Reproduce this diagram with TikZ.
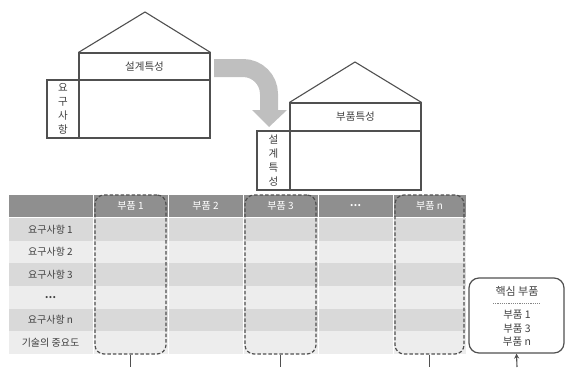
\documentclass[tikz,border=0pt]{standalone}
\usepackage{fontspec}
\setmainfont{Noto Sans CJK KR}
\usetikzlibrary{arrows.meta}
\definecolor{txt}{HTML}{404040}
\definecolor{linec}{HTML}{505050}
\definecolor{hdr}{HTML}{8F8F8F}
\definecolor{rowd}{HTML}{D9D9D9}
\definecolor{rowl}{HTML}{EDEDED}
\definecolor{arrowgray}{HTML}{BFBFBF}
\begin{document}
\begin{tikzpicture}[x=1pt,y=-1pt,
  housebox/.style={draw=linec, line width=1.1pt, inner sep=0pt, text=txt, font=\fontsize{10.5}{14}\selectfont},
  rooflines/.style={draw=linec, line width=1.1pt},
  cellbase/.style={inner sep=0pt, minimum height=22.67pt, text=txt, font=\fontsize{10}{12}\selectfont},
  hdrcell/.style={inner sep=0pt, minimum height=22pt, fill=hdr, text=white, font=\fontsize{10}{12}\selectfont},
  selbox/.style={draw=linec, line width=1.2pt, dash pattern=on 3.5pt off 2pt, rounded corners=9pt, minimum height=159pt, inner sep=0pt},
  conn/.style={draw=linec, line width=1.1pt},
  corebox/.style={draw=linec, line width=1.2pt, rounded corners=10pt, minimum width=95pt, minimum height=75pt, inner sep=0pt},
  coretext/.style={text=txt, inner sep=0pt, align=center}
]
\useasboundingbox (0,0) rectangle (565,367);

% ---------- house 1 ----------
\node[housebox, minimum width=131pt, minimum height=27pt] (h1head) at (144.5,66.5) {설계특성};
\node[housebox, minimum width=131pt, minimum height=58pt] (h1body) at (144.5,109) {};
\node[housebox, minimum width=32pt, minimum height=58pt, align=center] (h1side) at (63,109) {요\\구\\사\\항};
\coordinate (h1apex) at (145,12);
\draw[rooflines] (h1head.north west) -- (h1apex) -- (h1head.north east);

% ---------- house 2 ----------
\node[housebox, minimum width=131pt, minimum height=28pt] (h2head) at (355.5,117) {부품특성};
\node[housebox, minimum width=131pt, minimum height=59pt] (h2body) at (355.5,160.5) {};
\node[housebox, minimum width=33pt, minimum height=59pt, align=center] (h2side) at (273.5,160.5) {설\\계\\특\\성};
\coordinate (h2apex) at (355,62);
\draw[rooflines] (h2head.north west) -- (h2apex) -- (h2head.north east);

% ---------- gray bent arrow ----------
\coordinate (ga) at (214,68);
\coordinate (gb) at (269,110.5);
\coordinate (gtip) at (269,127);
\draw[arrowgray, line width=18pt, rounded corners=26pt] (ga) -| (gb);
\fill[arrowgray] (252,110) -- (287,110) -- (gtip) -- cycle;

% ---------- table header ----------
\node[hdrcell, minimum width=84pt] (h0) at (50.5,205.5) {};
\node[hdrcell, minimum width=74pt] (h1) at (130.5,205.5) {부품 1};
\node[hdrcell, minimum width=74pt] (h2) at (205.5,205.5) {부품 2};
\node[hdrcell, minimum width=74pt] (h3) at (280.5,205.5) {부품 3};
\node[hdrcell, minimum width=74pt] (h4) at (355.5,205.5) {\textbf{…}};
\node[hdrcell, minimum width=72pt] (h5) at (429.5,205.5) {부품 n};

% ---------- table body ----------
\foreach \r/\cy/\fc/\lab in {1/229.33/rowd/요구사항 1, 2/252/rowl/요구사항 2, 3/274.67/rowd/요구사항 3, 4/297.33/rowl/\textbf{…}, 5/320/rowd/요구사항 n, 6/342.67/rowl/기술의 중요도}{
  \node[cellbase, fill=\fc, minimum width=84pt] (r\r c0) at (50.5,\cy) {\lab};
  \foreach \c/\cx/\w in {1/130.5/74, 2/205.5/74, 3/280.5/74, 4/355.5/74, 5/429.5/72}{
    \node[cellbase, fill=\fc, minimum width=\w pt] (r\r c\c) at (\cx,\cy) {};
  }
}

% ---------- dashed selection boxes ----------
\node[selbox, minimum width=71pt] (sel1) at (130.5,274.5) {};
\node[selbox, minimum width=71pt] (sel3) at (280.5,274.5) {};
\node[selbox, minimum width=69pt] (seln) at (429.5,274.5) {};
\coordinate (e1) at (130.5,367);
\coordinate (e3) at (280.5,367);
\coordinate (en) at (429.5,367);
\draw[conn] (sel1.south) -- (e1);
\draw[conn] (sel3.south) -- (e3);
\draw[conn] (seln.south) -- (en);

% ---------- core parts box ----------
\node[corebox] (core) at (516.5,315.5) {};
\node[coretext, font=\fontsize{11}{13}\selectfont] (coretitle) at (517,291) {핵심 부품};
\coordinate (cdl) at (493,303);
\coordinate (cdr) at (541,303);
\draw[linec!70, line width=0.5pt, dash pattern=on 1.2pt off 1pt] (cdl) -- (cdr);
\node[coretext, font=\fontsize{10.5}{13.5}\selectfont] (corelist) at (517,328.5) {부품 1\\부품 3\\부품 n};
\coordinate (ce) at (517,367);
\draw[conn, -{Stealth[length=5pt,width=5pt]}] (ce) -- (core.south);
\end{tikzpicture}
\end{document}
